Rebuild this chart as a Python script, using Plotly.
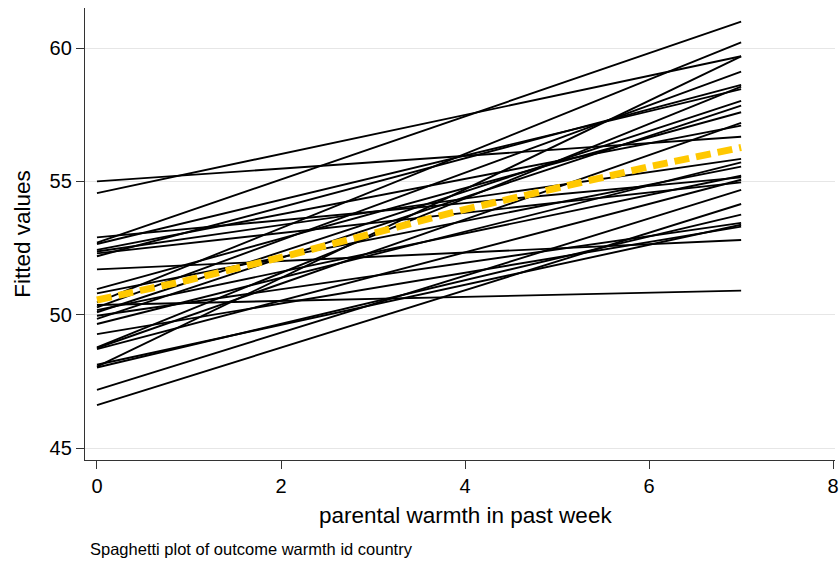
import plotly.graph_objects as go

# Per-country fitted lines: value at warmth=0 and at warmth=7
start_vals = [55.0, 54.56, 52.7, 50.46, 50.36, 46.61, 47.18,
              52.9, 52.65, 52.43, 52.37, 52.3, 52.19, 51.7, 50.96, 50.8,
              50.27, 50.17, 50.09, 49.96, 49.84, 49.65, 49.27, 48.77,
              48.75, 48.71, 48.12, 48.05, 48.02]
end_vals = [56.67, 59.69, 60.99, 60.21, 50.9, 54.15, 54.68,
            55.15, 58.46, 57.09, 55.84, 54.96, 58.62, 52.8, 57.59, 55.55,
            59.11, 55.21, 58.02, 53.44, 57.84, 55.71, 53.3, 58.55,
            57.19, 55.06, 53.37, 59.69, 53.75]
x_ends = [0, 7]

# Overall smoothed fit
mean_x = [0, 1, 2, 3, 4, 5, 6, 7]
mean_y = [50.55, 51.3, 52.15, 53.05, 53.95, 54.75, 55.55, 56.27]

x_ticks = [0, 2, 4, 6, 8]
y_ticks = [45, 50, 55, 60]

FONT = "Arial, Liberation Sans, Helvetica, sans-serif"

fig = go.Figure()
for s, e in zip(start_vals, end_vals):
    fig.add_trace(go.Scatter(x=x_ends, y=[s, e], mode="lines",
                             line=dict(color="black", width=1.9),
                             showlegend=False, hoverinfo="skip"))
fig.add_trace(go.Scatter(x=mean_x, y=mean_y, mode="lines",
                         line=dict(color="#FFC800", width=7, dash="15px,7px"),
                         showlegend=False, hoverinfo="skip"))

fig.update_layout(
    width=839, height=561,
    margin=dict(l=85, r=0, t=8, b=101),
    paper_bgcolor="white", plot_bgcolor="white",
    font=dict(family=FONT, color="black"),
    xaxis=dict(range=[-0.13, 8.02], tickvals=x_ticks, ticks="outside",
               ticklen=8, tickwidth=1.3, tickcolor="#333",
               showline=True, linecolor="#333", linewidth=1.3,
               showgrid=False, zeroline=False, ticklabeloverflow="allow",
               tickfont=dict(size=20, family=FONT)),
    yaxis=dict(range=[44.55, 61.5], tickvals=y_ticks, ticks="outside",
               ticklen=8, tickwidth=1.3, tickcolor="#333",
               showline=True, linecolor="#333", linewidth=1.3,
               showgrid=True, gridcolor="#e6e6e6", gridwidth=1,
               zeroline=False,
               tickfont=dict(size=20, family=FONT),
               title=dict(text="Fitted values",
                          font=dict(size=22.5, family=FONT), standoff=12)),
)

fig.add_annotation(text="parental warmth in past week",
                   xref="x", yref="paper", x=4.0, y=-0.123,
                   xanchor="center", yanchor="middle", showarrow=False,
                   font=dict(size=22.5, family=FONT, color="black"))

fig.add_annotation(text="Spaghetti plot of outcome warmth id country",
                   xref="paper", yref="paper", x=0.004, y=-0.198,
                   xanchor="left", yanchor="middle", showarrow=False,
                   font=dict(size=16.5, family=FONT, color="black"))

fig.write_html("out.html")
